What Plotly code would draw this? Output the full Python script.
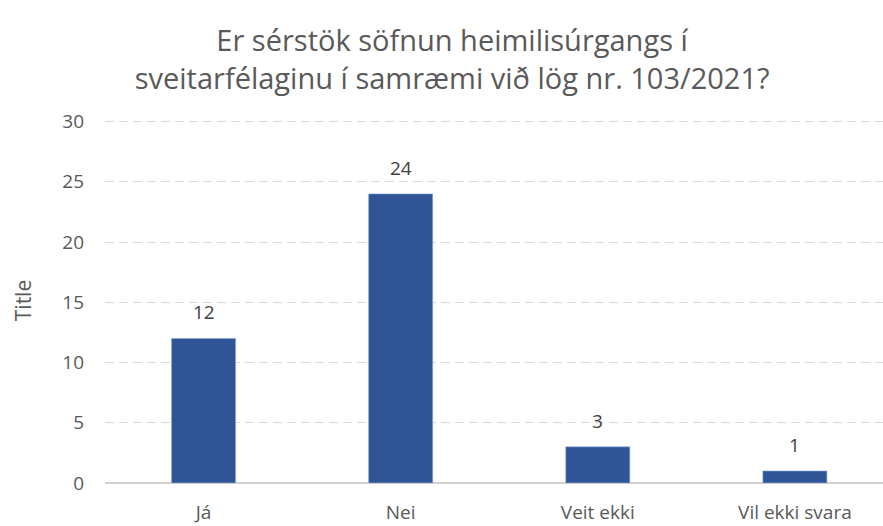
import plotly.graph_objects as go

categories = ["Já", "Nei", "Veit ekki", "Vil ekki svara"]
values = [12, 24, 3, 1]
y_ticks = [0, 5, 10, 15, 20, 25, 30]

title_text = "Er sérstök söfnun heimilisúrgangs í<br>sveitarfélaginu í samræmi við lög nr. 103/2021?"
y_title = "Title"

font_family = "Open Sans, Lato, sans-serif"
gray = "#595959"

fig = go.Figure(
    go.Bar(
        x=categories,
        y=values,
        width=0.325,
        marker=dict(color="#2F5597", line=dict(color="#8faadc", width=0.6)),
        cliponaxis=False,
        hoverinfo="skip",
    )
)

for c, v in zip(categories, values):
    fig.add_annotation(
        x=c, y=v, text=str(v), showarrow=False,
        xanchor="center", yanchor="bottom", yshift=11,
        font=dict(size=19, color="#404040", family=font_family),
    )

fig.update_layout(
    width=883,
    height=526,
    margin=dict(l=105, r=0, t=118, b=43),
    paper_bgcolor="white",
    plot_bgcolor="white",
    showlegend=False,
    title=dict(
        text=title_text,
        x=0.512,
        xanchor="center",
        yref="container",
        y=1 - 51 / 526,
        yanchor="middle",
        font=dict(size=29, color=gray, family=font_family),
    ),
    font=dict(family=font_family, color=gray),
)

fig.update_xaxes(
    range=[-0.5, 3.447],
    showgrid=False,
    showline=False,
    ticks="",
    automargin=False,
    ticklabelstandoff=16,
    tickfont=dict(size=19, color=gray),
)

fig.update_yaxes(
    range=[0, 30.3],
    tickvals=y_ticks,
    showgrid=True,
    gridcolor="#d9d9d9",
    griddash="9px,5px",
    gridwidth=1.3,
    zeroline=True,
    zerolinecolor="#d0d0d0",
    zerolinewidth=1.5,
    showline=False,
    ticks="",
    automargin=False,
    ticklabelstandoff=20,
    tickfont=dict(size=19, color=gray),
    title=dict(text=y_title, font=dict(size=21, color=gray), standoff=24),
)

fig.write_html(
    "out.html",
    config={"displayModeBar": False},
    post_script="document.body.style.margin='0';document.body.style.padding='0';",
)
